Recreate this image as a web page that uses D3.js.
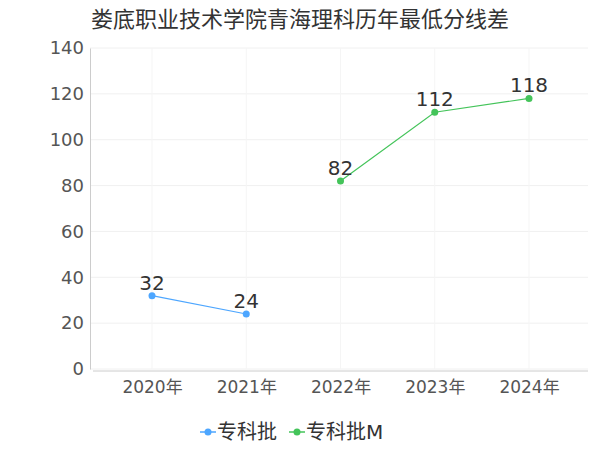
<!DOCTYPE html><html><head><meta charset="utf-8"><script src="https://d3js.org/d3.v7.min.js"></script>
<style>body{margin:0;background:#fff}text{font-family:"DejaVu Sans","Noto Sans CJK SC",sans-serif}</style></head><body><svg id="c" width="600" height="450"></svg><script>
const categories=["2020年","2021年","2022年","2023年","2024年"];
const seriesNames=["专科批","专科批M"];
const seriesA=[32,24,null,null,null];
const seriesB=[null,null,82,112,118];
const colors=["#4da6ff","#44c45a"];
const yTicks=[0,20,40,60,80,100,120,140];
const svg=d3.select("#c");
const x=d3.scalePoint().domain(categories).range([152,529]);
const y=d3.scaleLinear().domain([0,140]).range([369,48]);
svg.append("text").attr("x",300).attr("y",27).attr("text-anchor","middle").attr("font-size",22).attr("fill","#333").text("娄底职业技术学院青海理科历年最低分线差");
const g=svg.append("g");
yTicks.forEach(t=>{g.append("line").attr("x1",90).attr("x2",588).attr("y1",y(t)).attr("y2",y(t)).attr("stroke","#f0f0f0");});
categories.forEach(c=>{g.append("line").attr("x1",x(c)).attr("x2",x(c)).attr("y1",48).attr("y2",369).attr("stroke","#f5f5f5");});
const ya=svg.append("g").attr("transform","translate(90,0)").call(d3.axisLeft(y).tickValues(yTicks).tickSize(0).tickPadding(6));
ya.select(".domain").attr("stroke","#ccc");ya.selectAll("text").attr("font-size",18).attr("fill","#555");
const xa=svg.append("g").attr("transform","translate(0,371)").call(d3.axisBottom(x).tickSize(0).tickPadding(10));
xa.select(".domain").attr("d","M93,0H588").attr("stroke","#ccc");xa.selectAll("text").attr("font-size",17).attr("fill","#555");
[seriesA,seriesB].forEach((s,i)=>{
 const pts=categories.map((c,j)=>[c,s[j]]).filter(d=>d[1]!=null);
 svg.append("path").attr("d",d3.line().x(d=>x(d[0])).y(d=>y(d[1]))(pts)).attr("fill","none").attr("stroke",colors[i]).attr("stroke-width",1.2);
 pts.forEach(d=>{svg.append("circle").attr("cx",x(d[0])).attr("cy",y(d[1])).attr("r",3.5).attr("fill",colors[i]);
 svg.append("text").attr("x",x(d[0])).attr("y",y(d[1])-6).attr("text-anchor","middle").attr("font-size",20).attr("fill","#333").text(d[1]);});
});
const lg=[[208,seriesNames[0]],[297,seriesNames[1]]];
lg.forEach((l,i)=>{svg.append("line").attr("x1",l[0]-8).attr("x2",l[0]+8).attr("y1",432).attr("y2",432).attr("stroke",colors[i]).attr("stroke-width",1.5);
svg.append("circle").attr("cx",l[0]).attr("cy",432).attr("r",3.5).attr("fill",colors[i]);
svg.append("text").attr("x",l[0]+9).attr("y",439).attr("font-size",20).attr("fill","#333").text(l[1]);});
</script></body></html>
